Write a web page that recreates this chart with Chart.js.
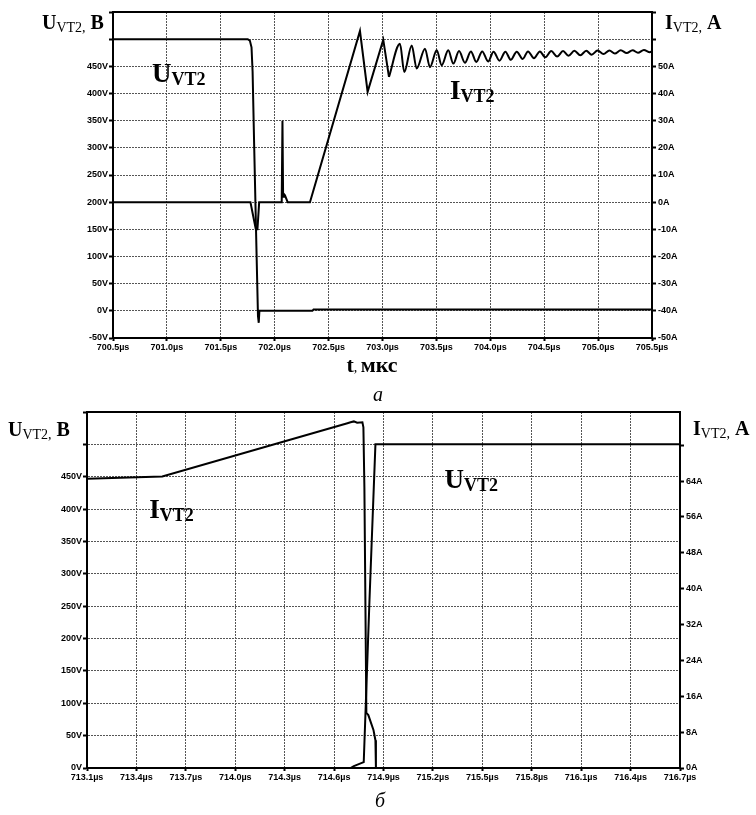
<!DOCTYPE html>
<html><head><meta charset="utf-8">
<script src="https://cdn.jsdelivr.net/npm/chart.js@4.4.1/dist/chart.umd.min.js"></script>
<style>
html,body{margin:0;padding:0;background:#fff;width:756px;height:815px;overflow:hidden;position:relative;}
#c1{position:absolute;left:0;top:0;}
#c2{position:absolute;left:0;top:400px;}
.cap{position:absolute;font-family:"Liberation Serif","Times New Roman",serif;font-style:italic;font-size:20px;color:#000;line-height:20px;}
</style></head><body>
<canvas id="c1" width="756" height="390"></canvas>
<canvas id="c2" width="756" height="415"></canvas>
<div class="cap" style="left:373px;top:384px;">а</div>
<div class="cap" style="left:375px;top:790px;">б</div>
<script>
// ===== Chart (а): time axis in µs =====
const xTicksA  = [700.5, 701.0, 701.5, 702.0, 702.5, 703.0, 703.5, 704.0, 704.5, 705.0, 705.5];
const xLabelsA = ['700.5µs','701.0µs','701.5µs','702.0µs','702.5µs','703.0µs','703.5µs','704.0µs','704.5µs','705.0µs','705.5µs'];
const yTicksLA  = [-50, 0, 50, 100, 150, 200, 250, 300, 350, 400, 450, 500, 550];
const yLabelsLA = ['-50V','0V','50V','100V','150V','200V','250V','300V','350V','400V','450V','',''];
const yTicksRA  = [-50, -40, -30, -20, -10, 0, 10, 20, 30, 40, 50, 60, 70];
const yLabelsRA = ['-50A','-40A','-30A','-20A','-10A','0A','10A','20A','30A','40A','50A','',''];

// U_VT2 (V)
const uTimeA = [700.5, 701.75, 701.77, 701.785, 701.795, 701.81, 701.83, 701.845, 701.852, 701.858, 702.35, 702.36, 705.5];
const uValA  = [500,   500,    497,    485,     440,     300,    120,    -10,     -22,     0,       0,      2.5,    2.5];

// I_VT2 (A): switching part (sharp) and ringing part (smooth)
const iTimeA = [700.5, 701.775, 701.80, 701.825, 701.84, 701.856, 702.065, 702.072, 702.078, 702.085, 702.095, 702.11, 702.12, 702.327,
  702.791, 702.862, 703.007, 703.06];
const iValA  = [0, 0, -5, -10, -10, 0, 0, 30, 2, 3, 2.5, 1, 0, 0,
  63.0, 40.6, 59.8, 46.1];
const iRingTimeA = [703.06, 703.162, 703.202, 703.271, 703.317, 703.394, 703.44, 703.503, 703.549, 703.61, 703.657,
  703.71, 703.765, 703.82, 703.87, 703.925, 703.98, 704.03, 704.085, 704.14, 704.19, 704.245, 704.30, 704.35, 704.405,
  704.46, 704.51, 704.565, 704.62, 704.675, 704.725, 704.78, 704.835, 704.89, 704.94, 704.995, 705.05, 705.105, 705.155,
  705.21, 705.265, 705.32, 705.37, 705.425, 705.48, 705.5];
const iRingValA = [46.1, 58.3, 47.9, 57.7, 49.2, 56.5, 49.7, 55.9, 50.4, 55.9, 51.0,
  55.6, 51.3, 55.5, 51.6, 55.5, 51.8, 55.4, 52.1, 55.4, 52.4, 55.4, 52.7, 55.5, 53.0,
  55.5, 53.3, 55.6, 53.6, 55.6, 53.9, 55.7, 54.1, 55.7, 54.3, 55.8, 54.5, 55.8, 54.7,
  55.9, 54.9, 55.9, 55.0, 56.0, 55.2, 55.5];

// ===== Chart (б) =====
const xTicksB  = [713.1, 713.4, 713.7, 714.0, 714.3, 714.6, 714.9, 715.2, 715.5, 715.8, 716.1, 716.4, 716.7];
const xLabelsB = ['713.1µs','713.4µs','713.7µs','714.0µs','714.3µs','714.6µs','714.9µs','715.2µs','715.5µs','715.8µs','716.1µs','716.4µs','716.7µs'];
const yTicksLB  = [0, 50, 100, 150, 200, 250, 300, 350, 400, 450, 500, 550];
const yLabelsLB = ['0V','50V','100V','150V','200V','250V','300V','350V','400V','450V','',''];
const yTicksRB  = [0, 8, 16, 24, 32, 40, 48, 56, 64, 72];
const yLabelsRB = ['0A','8A','16A','24A','32A','40A','48A','56A','64A',''];

const uTimeB = [713.1, 714.70, 714.72, 714.78, 714.815, 714.851, 716.7];
const uValB  = [0,     0,      3,      9,      260,     500,     500];

const iTimeB = [713.1, 713.557, 714.681, 714.70, 714.72, 714.74, 714.772, 714.778, 714.784, 714.796, 714.808, 714.839, 714.851, 714.854, 716.7];
const iValB  = [64.5,  65.0,    76.9,    77.1,   77.3,   77.0,   77.1,    76.0,    62.6,    12.3,    11.8,    8.5,     6.2,     0,       0];

// ===== helpers =====
const zip = (xs, ys) => xs.map((x, k) => ({x: x, y: ys[k]}));
const SANS = '"Liberation Sans", Arial, sans-serif';
const SERIF = '"Liberation Serif", "Times New Roman", serif';
const tickFont = {family: SANS, size: 9, weight: 'bold'};

function drawParts(ctx, x, y, parts, align) {
  let w = 0;
  for (const p of parts) { ctx.font = p.f; w += ctx.measureText(p.t).width; }
  let cx = align === 'center' ? x - w / 2 : x;
  for (const p of parts) {
    ctx.font = p.f;
    ctx.fillText(p.t, cx, y + (p.dy || 0));
    cx += ctx.measureText(p.t).width;
  }
}
const big = (t) => ({t, f: 'bold 27px ' + SERIF});
const bigSub = (t) => ({t, f: 'bold 18px ' + SERIF, dy: 3});
const ttl = (t) => ({t, f: 'bold 20px ' + SERIF});
const ttlSub = (t) => ({t, f: '14px ' + SERIF, dy: 3});

const framePlugin = {
  id: 'frame',
  afterDraw(chart) {
    const {ctx, chartArea: a} = chart;
    ctx.save();
    ctx.strokeStyle = '#000';
    ctx.lineWidth = 2;
    ctx.beginPath();
    ctx.moveTo(a.left - 1, a.top);
    ctx.lineTo(a.right + 1, a.top);
    ctx.stroke();
    ctx.restore();
  }
};

function makeChart(id, cfg) {
  const labelsPlugin = {
    id: 'labels' + id,
    afterDraw(chart) {
      const ctx = chart.ctx;
      const sx = chart.scales.x, sl = chart.scales.yL, sr = chart.scales.yR;
      ctx.save();
      ctx.fillStyle = '#000';
      ctx.textBaseline = 'alphabetic';
      for (const L of cfg.texts) {
        let x, y;
        if (L.data) {
          x = sx.getPixelForValue(L.data[0]);
          y = (L.axis === 'yR' ? sr : sl).getPixelForValue(L.data[1]);
        } else { x = L.px[0]; y = L.px[1]; }
        drawParts(ctx, x, y, L.parts, L.align);
      }
      ctx.restore();
    }
  };
  const gridCommon = {color: '#555', lineWidth: 1, tickLength: 4, tickColor: '#000', tickWidth: 2, tickBorderDash: []};
  const line = (label, data, axis, smooth) => ({label, data, yAxisID: axis, borderColor: '#000', borderWidth: 2,
    pointRadius: 0, fill: false, tension: 0, cubicInterpolationMode: smooth ? 'monotone' : 'default'});
  const datasets = [line('U', cfg.u, 'yL', false), line('I', cfg.i, 'yR', false)];
  if (cfg.iRing) datasets.push(line('I ring', cfg.iRing, 'yR', true));
  return new Chart(document.getElementById(id), {
    type: 'line',
    data: {datasets},
    options: {
      responsive: false, animation: false, events: [],
      layout: {padding: {left: 0, right: 0, top: cfg.padTop, bottom: cfg.padBottom}},
      plugins: {legend: {display: false}, tooltip: {enabled: false}},
      scales: {
        x: {type: 'linear', position: 'bottom', min: cfg.xTicks[0], max: cfg.xTicks[cfg.xTicks.length - 1],
          afterBuildTicks: s => { s.ticks = cfg.xTicks.map(v => ({value: v})); },
          afterFit: s => { s.height = 18; },
          ticks: {callback: (v, k) => cfg.xLabels[k], font: tickFont, color: '#000', maxRotation: 0, autoSkip: false, padding: 1},
          grid: Object.assign({}, gridCommon, {tickLength: 3}),
          border: {display: true, color: '#000', width: 2, dash: [2, 1]}},
        yL: {type: 'linear', position: 'left', min: cfg.yL[0], max: cfg.yL[cfg.yL.length - 1],
          afterBuildTicks: s => { s.ticks = cfg.yL.map(v => ({value: v})); },
          afterFit: s => { s.width = cfg.leftW; },
          ticks: {callback: (v, k) => cfg.yLLabels[k], font: tickFont, color: '#000', autoSkip: false, padding: 1},
          grid: gridCommon,
          border: {display: true, color: '#000', width: 2, dash: [2, 1]}},
        yR: {type: 'linear', position: 'right', min: cfg.yRmin, max: cfg.yRmax,
          afterBuildTicks: s => { s.ticks = cfg.yR.map(v => ({value: v})); },
          afterFit: s => { s.width = cfg.rightW; },
          ticks: {callback: (v, k) => cfg.yRLabels[k], font: tickFont, color: '#000', autoSkip: false, padding: 2},
          grid: Object.assign({}, gridCommon, {drawOnChartArea: false}),
          border: {display: true, color: '#000', width: 2}}
      }
    },
    plugins: [framePlugin, labelsPlugin]
  });
}

makeChart('c1', {
  u: zip(uTimeA, uValA), i: zip(iTimeA, iValA), iRing: zip(iRingTimeA, iRingValA),
  xTicks: xTicksA, xLabels: xLabelsA, yL: yTicksLA, yLLabels: yLabelsLA,
  yR: yTicksRA, yRLabels: yLabelsRA, yRmin: -50, yRmax: 70,
  leftW: 113, rightW: 104, padTop: 12, padBottom: 34,
  texts: [
    {px: [42, 29], parts: [ttl('U'), ttlSub('VT2,'), ttl(' В')]},
    {px: [665, 29], parts: [ttl('I'), ttlSub('VT2,'), ttl(' А')]},
    {px: [372, 372], align: 'center', parts: [{t: 't', f: 'bold 22px ' + SERIF}, {t: ', ', f: '14px ' + SERIF}, {t: 'мкс', f: 'bold 22px ' + SERIF}]},
    {data: [700.862, 421], axis: 'yL', parts: [big('U'), bigSub('VT2')]},
    {data: [703.626, 37.9], axis: 'yR', parts: [big('I'), bigSub('VT2')]}
  ]
});

makeChart('c2', {
  u: zip(uTimeB, uValB), i: zip(iTimeB, iValB),
  xTicks: xTicksB, xLabels: xLabelsB, yL: yTicksLB, yLLabels: yLabelsLB,
  yR: yTicksRB, yRLabels: yLabelsRB, yRmin: 0, yRmax: 79.4,
  leftW: 87, rightW: 76, padTop: 12, padBottom: 29,
  texts: [
    {px: [8, 36], parts: [ttl('U'), ttlSub('VT2,'), ttl(' В')]},
    {px: [693, 35], parts: [ttl('I'), ttlSub('VT2,'), ttl(' А')]},
    {data: [713.478, 387], axis: 'yL', parts: [big('I'), bigSub('VT2')]},
    {data: [715.271, 432], axis: 'yL', parts: [big('U'), bigSub('VT2')]}
  ]
});
</script>
</body></html>
